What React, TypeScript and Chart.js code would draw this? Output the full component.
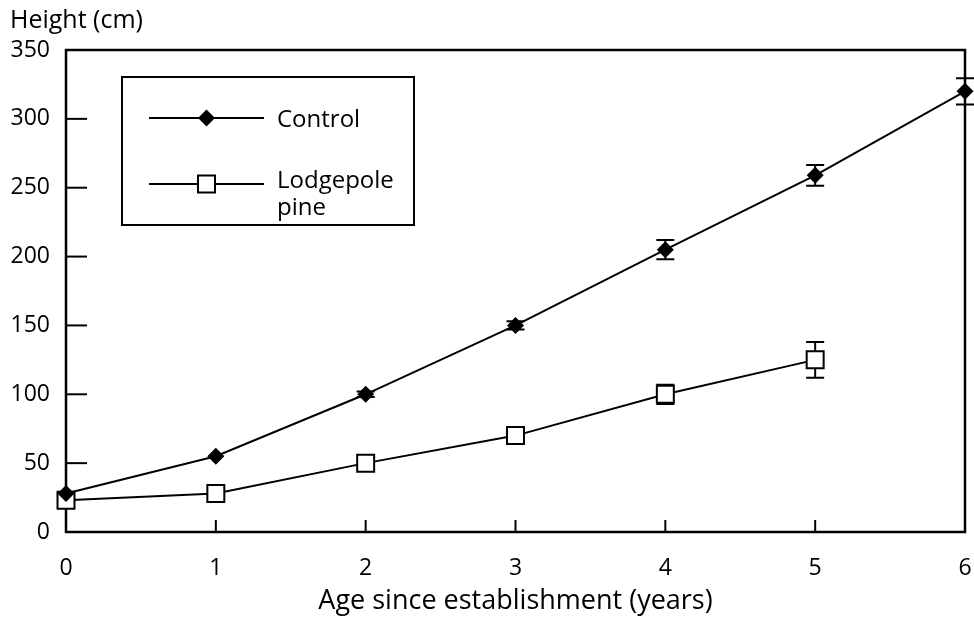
import React, { useEffect, useRef } from "react";
import { Chart, registerables } from "chart.js";

Chart.register(...registerables);

// ---- data ----
const ages = [0, 1, 2, 3, 4, 5, 6];
const controlHeight = [28, 55, 100, 150, 205, 259, 320];
const controlErr = [0, 0, 2, 3, 7, 7.5, 9.5];
const lodgepoleAges = [0, 1, 2, 3, 4, 5];
const lodgepoleHeight = [23, 28, 50, 70, 100, 125];
const lodgepoleErr = [0, 0, 0, 0, 7, 13];
const yTicks = [0, 50, 100, 150, 200, 250, 300, 350];
const xTicks = [0, 1, 2, 3, 4, 5, 6];
const xTitle = "Age since establishment (years)";
const yTitle = "Height (cm)";
const controlLabel = ["Control"];
const lodgepoleLabel = ["Lodgepole", "pine"];

const FONT = "'Open Sans', sans-serif";
const TICK_SIZE = 23;
const LEGEND_SIZE = 24;
const YTITLE_SIZE = 25;
const XTITLE_SIZE = 27;
const errs = [controlErr, lodgepoleErr];

function drawDiamond(ctx: CanvasRenderingContext2D, x: number, y: number, r: number) {
  ctx.beginPath();
  ctx.moveTo(x, y - r);
  ctx.lineTo(x + r, y);
  ctx.lineTo(x, y + r);
  ctx.lineTo(x - r, y);
  ctx.closePath();
  ctx.fillStyle = "#000";
  ctx.fill();
}

function drawSquare(ctx: CanvasRenderingContext2D, x: number, y: number, h: number) {
  ctx.fillStyle = "#fff";
  ctx.strokeStyle = "#000";
  ctx.lineWidth = 2;
  ctx.fillRect(x - h, y - h, 2 * h, 2 * h);
  ctx.strokeRect(x - h, y - h, 2 * h, 2 * h);
}

const framePlugin = {
  id: "framePlugin",
  beforeDatasetsDraw(chart: any) {
    const { ctx, chartArea: ca, scales } = chart;
    ctx.save();
    ctx.strokeStyle = "#000";
    ctx.lineWidth = 2.5;
    ctx.strokeRect(ca.left, ca.top, ca.right - ca.left, ca.bottom - ca.top);
    ctx.lineWidth = 2;
    yTicks.forEach((v) => {
      const y = scales.y.getPixelForValue(v);
      ctx.beginPath();
      ctx.moveTo(ca.left, y);
      ctx.lineTo(ca.left + 21, y);
      ctx.stroke();
    });
    xTicks.forEach((v) => {
      const x = scales.x.getPixelForValue(v);
      ctx.beginPath();
      ctx.moveTo(x, ca.bottom);
      ctx.lineTo(x, ca.bottom - 12);
      ctx.stroke();
    });
    // error bars (behind markers)
    chart.data.datasets.forEach((ds: any, i: number) => {
      const e = errs[i];
      ds.data.forEach((p: any, j: number) => {
        if (!e[j]) return;
        const x = scales.x.getPixelForValue(p.x);
        const y1 = scales.y.getPixelForValue(p.y + e[j]);
        const y2 = scales.y.getPixelForValue(p.y - e[j]);
        ctx.beginPath();
        ctx.moveTo(x, y1);
        ctx.lineTo(x, y2);
        ctx.moveTo(x - 9, y1);
        ctx.lineTo(x + 9, y1);
        ctx.moveTo(x - 9, y2);
        ctx.lineTo(x + 9, y2);
        ctx.stroke();
      });
    });
    ctx.restore();
  },
  afterDraw(chart: any) {
    const { ctx, chartArea: ca } = chart;
    ctx.save();
    ctx.fillStyle = "#000";
    ctx.textBaseline = "alphabetic";
    ctx.textAlign = "left";
    ctx.font = `${YTITLE_SIZE}px ${FONT}`;
    ctx.fillText(yTitle, 10, 28);

    // legend box
    const bx = ca.left + 56;
    const by = ca.top + 27;
    const bw = 292;
    const bh = 148;
    ctx.strokeStyle = "#000";
    ctx.lineWidth = 2;
    ctx.fillStyle = "#fff";
    ctx.fillRect(bx, by, bw, bh);
    ctx.strokeRect(bx, by, bw, bh);

    const lx1 = bx + 27;
    const lx2 = bx + 142;
    const mx = (lx1 + lx2) / 2;
    const ly1 = by + 41;
    const ly2 = by + 107;
    ctx.lineWidth = 2;
    ctx.beginPath();
    ctx.moveTo(lx1, ly1);
    ctx.lineTo(lx2, ly1);
    ctx.moveTo(lx1, ly2);
    ctx.lineTo(lx2, ly2);
    ctx.stroke();
    drawDiamond(ctx, mx, ly1, 8.5);
    drawSquare(ctx, mx, ly2, 8.5);

    ctx.fillStyle = "#000";
    ctx.font = `${LEGEND_SIZE}px ${FONT}`;
    const tx = bx + 155;
    controlLabel.forEach((t, i) => ctx.fillText(t, tx, by + 50 + i * 27));
    lodgepoleLabel.forEach((t, i) => ctx.fillText(t, tx, by + 111 + i * 27));
    ctx.restore();
  },
};

export default function App() {
  const ref = useRef<HTMLCanvasElement | null>(null);
  useEffect(() => {
    document.body.style.margin = "0";
    if (!ref.current) return;
    const chart = new Chart(ref.current, {
      type: "line",
      data: {
        datasets: [
          {
            label: "Control",
            data: ages.map((a, i) => ({ x: a, y: controlHeight[i] })),
            borderColor: "#000",
            borderWidth: 2,
            backgroundColor: "#000",
            pointStyle: "rectRot",
            pointRadius: 8.5,
            pointBorderWidth: 0,
            pointBackgroundColor: "#000",
            tension: 0,
            clip: false as any,
          },
          {
            label: "Lodgepole pine",
            data: lodgepoleAges.map((a, i) => ({ x: a, y: lodgepoleHeight[i] })),
            borderColor: "#000",
            borderWidth: 2,
            backgroundColor: "#fff",
            pointStyle: "rect",
            pointRadius: 12,
            pointBorderWidth: 2,
            pointBorderColor: "#000",
            pointBackgroundColor: "#fff",
            tension: 0,
            clip: false as any,
          },
        ],
      },
      options: {
        animation: false,
        responsive: false,
        events: [],
        layout: { autoPadding: false, padding: { top: 50, right: 9, left: 0, bottom: 0 } },
        plugins: {
          legend: { display: false },
          tooltip: { enabled: false },
        },
        scales: {
          x: {
            type: "linear",
            min: 0,
            max: 6,
            afterFit: (s: any) => {
              s.height = 86;
              s.paddingLeft = 0;
              s.paddingRight = 0;
            },
            afterBuildTicks: (s: any) => {
              s.ticks = xTicks.map((v) => ({ value: v }));
            },
            grid: { display: false, drawTicks: false },
            border: { display: false },
            ticks: {
              color: "#000",
              font: { family: FONT, size: TICK_SIZE },
              padding: 23,
              maxRotation: 0,
            },
            title: {
              display: true,
              text: xTitle,
              color: "#000",
              font: { family: FONT, size: XTITLE_SIZE },
              padding: { top: 0, bottom: 0 },
            },
          },
          y: {
            type: "linear",
            min: 0,
            max: 350,
            afterFit: (s: any) => {
              s.width = 66;
              s.paddingTop = 0;
              s.paddingBottom = 0;
            },
            afterBuildTicks: (s: any) => {
              s.ticks = yTicks.map((v) => ({ value: v }));
            },
            grid: { display: false, drawTicks: false },
            border: { display: false },
            ticks: {
              color: "#000",
              font: { family: FONT, size: TICK_SIZE },
              padding: 16,
            },
          },
        },
      },
      plugins: [framePlugin],
    });
    return () => chart.destroy();
  }, []);
  return (
    <div style={{ position: "fixed", left: 0, top: 0, width: 974, height: 618, background: "#fff" }}>
      <canvas ref={ref} width={974} height={618} style={{ width: 974, height: 618 }} />
    </div>
  );
}
